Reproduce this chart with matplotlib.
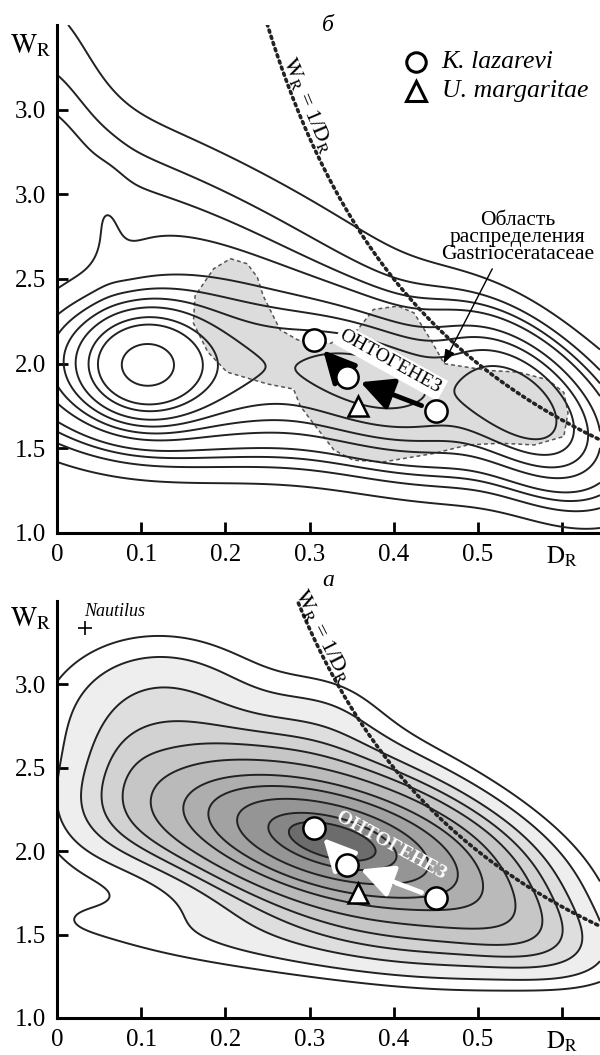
import numpy as np
import matplotlib
matplotlib.use('Agg')
import matplotlib.pyplot as plt
from matplotlib.patches import Polygon

plt.rcParams['font.family'] = ['Liberation Serif', 'DejaVu Serif']
plt.rcParams['mathtext.fontset'] = 'stix'

# ---------------- data ----------------
k_laz_D = [0.305, 0.345, 0.450]
k_laz_W = [2.14, 1.92, 1.72]
u_marg_D = [0.357]
u_marg_W = [1.75]

x_ticks = [0, 0.1, 0.2, 0.3, 0.4, 0.5, 0.6]
x_tick_labels = ['0', '0.1', '0.2', '0.3', '0.4', '0.5', r'$\mathrm{D_R}$']
top_y_ticks = [1.0, 1.5, 2.0, 2.5, 3.0, 3.5]
top_y_labels = ['1.0', '1.5', '2.0', '2.5', '3.0', '3.0']
bot_y_ticks = [1.0, 1.5, 2.0, 2.5, 3.0]
bot_y_labels = ['1.0', '1.5', '2.0', '2.5', '3.0']

# Gastriocerataceae distribution area outline
gastr_D = [0.206, 0.226, 0.238, 0.245, 0.265, 0.286, 0.325, 0.357, 0.376, 0.405, 0.424,
           0.444, 0.460, 0.512, 0.548, 0.583, 0.602, 0.607, 0.602, 0.567, 0.527, 0.488,
           0.448, 0.388, 0.352, 0.329, 0.301, 0.289, 0.281, 0.250, 0.202, 0.179, 0.162,
           0.164, 0.186]
gastr_W = [2.62, 2.59, 2.51, 2.40, 2.20, 2.14, 2.12, 2.20, 2.32, 2.34, 2.30,
           2.14, 2.00, 1.96, 1.95, 1.905, 1.83, 1.71, 1.57, 1.52, 1.53, 1.52,
           1.47, 1.42, 1.43, 1.49, 1.67, 1.75, 1.85, 1.88, 1.95, 2.07, 2.24,
           2.40, 2.56]

# density field components (panel б): centre D, centre W, spread major/minor, angle, weight
top_cD = [0.105, 0.12, 0.28, 0.17, -0.02, 0.38, 0.553, 0.06]
top_cW = [1.99, 2.00, 1.85, 2.65, 3.50, 1.90, 1.77, 2.75]
top_smaj = [0.42, 1.0, 2.3, 2.6, 0.5, 0.8, 0.75, 0.15]
top_smin = [0.36, 0.6, 0.55, 0.75, 1.2, 0.45, 0.42, 0.5]
top_ang = [0, 0, -8, -27, 0, -25, -45, 0]
top_wt = [1.0, 0.4, 0.25, 0.14, 0.06, 0.3, 0.5, 0.02]
# contour crossings read along D = 0.105 below the main peak
top_lev_D = [0.105] * 11
top_lev_W = [1.31, 1.40, 1.45, 1.49, 1.55, 1.59, 1.63, 1.67, 1.72, 1.76, 1.87]

# density field components (panel а)
bot_cD = [0.325, 0.34, 0.50, 0.13, 0.25, 0.12, 0.32, 0.28, 0.0, 0.09]
bot_cW = [2.06, 2.04, 1.68, 2.22, 2.35, 2.90, 2.78, 1.47, 1.80, 2.55]
bot_smaj = [0.85, 1.35, 0.8, 0.8, 1.8, 0.75, 0.5, 2.4, 0.5, 0.3]
bot_smin = [0.32, 0.55, 0.30, 0.40, 0.95, 0.55, 0.45, 0.35, 0.5, 0.3]
bot_ang = [-14, -18, -25, 0, -20, 0, 0, -3, 0, 0]
bot_wt = [1.0, 0.30, 0.08, 0.05, 0.035, 0.03, 0.012, 0.025, 0.006, 0.01]
# contour crossings read along D = 0.29 above the centre
bot_lev_D = [0.29] * 11
bot_lev_W = [3.05, 2.92, 2.78, 2.68, 2.60, 2.52, 2.44, 2.38, 2.31, 2.23, 2.17]
bot_fill = ['#ffffff', '#eeeeee', '#dedede', '#d2d2d2', '#c6c6c6', '#bababa',
            '#aeaeae', '#a2a2a2', '#959595', '#868686', '#6c6c6c']


def density(D, W, cD, cW, smaj, smin, ang, wt):
    u = np.asarray(D, dtype=float) * 10.0
    v = np.asarray(W, dtype=float) * 2.0
    f = np.zeros(np.broadcast(u, v).shape)
    for d0, w0, a, b, th, k in zip(cD, cW, smaj, smin, ang, wt):
        t = np.deg2rad(th)
        du = u - d0 * 10.0
        dv = v - w0 * 2.0
        xp = du * np.cos(t) + dv * np.sin(t)
        yp = -du * np.sin(t) + dv * np.cos(t)
        f = f + k * np.exp(-0.5 * ((xp / a) ** 2 + (yp / b) ** 2))
    return f


XMAX = 0.645
fig = plt.figure(figsize=(6.0, 10.55), dpi=100)
ax1 = fig.add_axes([0.095, 0.4948, 0.905, 0.4815])
ax2 = fig.add_axes([0.095, 0.0351, 0.905, 0.3952])


def style_axes(ax, ylo, yhi, yt, ytl):
    ax.set_xlim(0, XMAX)
    ax.set_ylim(ylo, yhi)
    for s in ['top', 'right']:
        ax.spines[s].set_visible(False)
    for s in ['left', 'bottom']:
        ax.spines[s].set_linewidth(2.2)
        ax.spines[s].set_zorder(20)
    ax.set_xticks(x_ticks)
    ax.set_xticklabels(x_tick_labels)
    ax.set_yticks(yt)
    ax.set_yticklabels(ytl)
    ax.tick_params(direction='in', length=8, width=2, labelsize=18)
    ax.tick_params(axis='x', pad=8)
    ax.tick_params(axis='y', pad=8)


# ---------- top panel (б) ----------
Dg = np.linspace(0, XMAX, 400)
Wt = np.linspace(1.0, 4.0, 400)
DD, WW = np.meshgrid(Dg, Wt)
Ft = density(DD, WW, top_cD, top_cW, top_smaj, top_smin, top_ang, top_wt)
top_levels = np.sort(density(top_lev_D, top_lev_W, top_cD, top_cW, top_smaj,
                             top_smin, top_ang, top_wt))

ax1.add_patch(Polygon(np.column_stack([gastr_D, gastr_W]), closed=True,
                      facecolor='#dcdcdc', edgecolor='#555555', lw=1.1,
                      linestyle=(0, (2.5, 2)), zorder=1))
ax1.contour(DD, WW, Ft, levels=top_levels, colors='#222222', linewidths=1.4, zorder=3)
style_axes(ax1, 1.0, 4.0, top_y_ticks, top_y_labels)

# ---------- bottom panel (а) ----------
Wb = np.linspace(1.0, 3.5, 400)
DD2, WW2 = np.meshgrid(Dg, Wb)
Fb = density(DD2, WW2, bot_cD, bot_cW, bot_smaj, bot_smin, bot_ang, bot_wt)
bot_levels = np.sort(density(bot_lev_D, bot_lev_W, bot_cD, bot_cW, bot_smaj,
                             bot_smin, bot_ang, bot_wt))
ax2.contourf(DD2, WW2, Fb, levels=list(bot_levels) + [Fb.max() * 2 + 1],
             colors=bot_fill, zorder=1)
ax2.contour(DD2, WW2, Fb, levels=bot_levels, colors='#222222', linewidths=1.4, zorder=3)
style_axes(ax2, 1.0, 3.5, bot_y_ticks, bot_y_labels)

# ---------- W = 1/D curves ----------
for ax in [ax1, ax2]:
    dcurve = np.linspace(1.0 / 4.3, XMAX, 300)
    ax.plot(dcurve, 1.0 / dcurve, color='#222222', lw=2.6, linestyle=(0, (0.6, 1.2)),
            dash_capstyle='round', zorder=6)

ax1.text(0.298, 3.53, r'$\mathrm{W_R}$ = 1/$\mathrm{D_R}$', rotation=-67, fontsize=16,
         ha='center', va='center', rotation_mode='anchor', zorder=7)
ax2.text(0.315, 3.29, r'$\mathrm{W_R}$ = 1/$\mathrm{D_R}$', rotation=-63, fontsize=16,
         ha='center', va='center', rotation_mode='anchor', zorder=7, clip_on=False)

# ---------- arrows & points ----------
for ax, col in [(ax1, 'black'), (ax2, 'white')]:
    ax.annotate('', xy=(k_laz_D[1], k_laz_W[1]), xytext=(k_laz_D[2], k_laz_W[2]),
                arrowprops=dict(arrowstyle='-|>,head_length=0.9,head_width=0.45',
                                lw=3.5, color=col, shrinkA=11, shrinkB=10,
                                mutation_scale=22), zorder=8)
    ax.annotate('', xy=(k_laz_D[0], k_laz_W[0]), xytext=(k_laz_D[1], k_laz_W[1]),
                arrowprops=dict(arrowstyle='-|>,head_length=0.9,head_width=0.45',
                                lw=3.5, color=col, shrinkA=10, shrinkB=10,
                                mutation_scale=22), zorder=8)
    ax.plot(k_laz_D, k_laz_W, 'o', ms=16, mfc='white', mec='black', mew=1.8, zorder=10)
    ax.plot(u_marg_D, u_marg_W, '^', ms=15, mfc='white', mec='black', mew=1.8, zorder=10)

ax1.text(0.396, 2.01, 'ОНТОГЕНЕЗ', rotation=-29, fontsize=14, ha='center', va='center',
         rotation_mode='anchor', zorder=9,
         bbox=dict(boxstyle='square,pad=0.15', fc='white', ec='none'))
ax2.text(0.396, 2.03, 'ОНТОГЕНЕЗ', rotation=-29, fontsize=14, ha='center', va='center',
         rotation_mode='anchor', zorder=9, color='white', fontweight='bold')

# ---------- legend & annotations ----------
ax1.plot([0.426], [3.78], 'o', ms=14, mfc='white', mec='black', mew=2.2, clip_on=False)
ax1.plot([0.426], [3.61], '^', ms=14, mfc='white', mec='black', mew=2.2, clip_on=False)
ax1.text(0.457, 3.78, 'K. lazarevi', fontsize=18.5, style='italic', va='center')
ax1.text(0.457, 3.61, 'U. margaritae', fontsize=18.5, style='italic', va='center')

ax1.text(0.547, 2.745, 'Область\nраспределения\nGastriocerataceae', fontsize=15.5,
         ha='center', va='center', linespacing=0.85, zorder=9)
ax1.annotate('', xy=(0.459, 2.0), xytext=(0.517, 2.56),
             arrowprops=dict(arrowstyle='-|>,head_length=0.6,head_width=0.22',
                             lw=1.0, color='black', mutation_scale=14,
                             shrinkA=0, shrinkB=0), zorder=9)

ax2.text(0.069, 3.44, 'Nautilus', fontsize=13, style='italic', ha='center', va='center',
         clip_on=False)
ax2.plot([0.033], [3.34], '+', ms=10, mew=1.2, color='black', clip_on=False)

fig.text(0.052, 0.957, r'$\mathrm{W_R}$', fontsize=20, ha='center', va='center')
fig.text(0.052, 0.414, r'$\mathrm{W_R}$', fontsize=20, ha='center', va='center')
fig.text(0.547, 0.976, 'б', fontsize=17, style='italic', ha='center', va='center')
fig.text(0.547, 0.450, 'а', fontsize=17, style='italic', ha='center', va='center')

fig.savefig('out.png', dpi=100)
